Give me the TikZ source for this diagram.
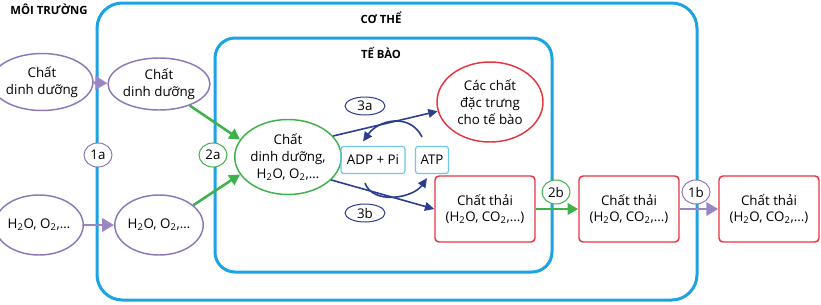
\documentclass[tikz,border=0pt]{standalone}
\usepackage{fontspec}
\setmainfont{Open Sans}
\usepackage{tikz}
\usepackage{xcolor}
\usetikzlibrary{shapes.geometric,arrows.meta}
\definecolor{bodyblue}{RGB}{27,163,227}
\definecolor{lilac}{RGB}{140,120,184}
\definecolor{lilacarrow}{RGB}{155,134,196}
\definecolor{leafgreen}{RGB}{61,177,74}
\definecolor{wastered}{RGB}{232,52,63}
\definecolor{navy}{RGB}{44,62,143}
\definecolor{paleblue}{RGB}{110,198,238}

\begin{document}
\begin{tikzpicture}[x=0.75pt,y=-0.75pt,
  every node/.style={font=\fontsize{10}{12.5}\selectfont,align=center},
  headtext/.style={font=\fontsize{8.5}{10}\selectfont\bfseries},
  oval/.style={ellipse,draw,line width=1.1pt,inner sep=0pt},
  wastebox/.style={draw=wastered,line width=1.1pt,rounded corners=3pt,minimum width=75pt,minimum height=49.5pt,inner sep=0pt},
  energybox/.style={draw=paleblue,line width=0.9pt,rounded corners=2pt,minimum height=20.25pt,inner sep=0pt},
  tag/.style={ellipse,draw,fill=white,line width=0.75pt,minimum width=21pt,minimum height=18pt,inner sep=0pt},
  lilacflow/.style={lilacarrow,line width=2.2pt,-{Triangle[length=9pt,width=10pt]}},
  greenflow/.style={leafgreen,line width=1.9pt,-{Triangle[length=8pt,width=8.5pt]}},
  navyflow/.style={navy,line width=1.2pt,-{Triangle[length=7pt,width=6.5pt]}}]
\useasboundingbox (0,0) rectangle (821,304);
\draw[bodyblue,line width=2.25pt,rounded corners=19pt] (97,3) rectangle (697,300);
\draw[bodyblue,line width=2.25pt,rounded corners=15pt] (215,38) rectangle (552,272);
\node[headtext] (moitruong) at (49,9.5) {MÔI TRƯỜNG};
\node[headtext] (cothe) at (381,18) {CƠ THỂ};
\node[headtext] (tebao) at (381,53) {TẾ BÀO};
\node[oval,draw=lilac,minimum width=60.75pt,minimum height=42.75pt] (envnutri) at (42,82) {Chất\\dinh dưỡng};
\node[oval,draw=lilac,minimum width=58.5pt,minimum height=39pt] (bodynutri) at (159,84) {Chất\\dinh dưỡng};
\node[oval,draw=lilac,minimum width=58.5pt,minimum height=45pt] (envwater) at (39,225) {H\textsubscript{2}O, O\textsubscript{2},…};
\node[oval,draw=lilac,minimum width=58.5pt,minimum height=45pt] (bodywater) at (159,225) {H\textsubscript{2}O, O\textsubscript{2},…};
\node[oval,draw=leafgreen,minimum width=72pt,minimum height=56.25pt] (cellmix) at (288,157) {Chất\\dinh dưỡng,\\H\textsubscript{2}O, O\textsubscript{2},…};
\node[oval,draw=wastered,minimum width=79.5pt,minimum height=60pt] (special) at (490,102) {Các chất\\đặc trưng\\cho tế bào};
\node[energybox,minimum width=48pt] (adp) at (373,160) {ADP + Pi};
\node[energybox,minimum width=24.75pt] (atp) at (432,160) {ATP};
\node[wastebox] (cellwaste) at (485,209) {Chất thải\\(H\textsubscript{2}O, CO\textsubscript{2},...)};
\node[wastebox] (bodywaste) at (629,209) {Chất thải\\(H\textsubscript{2}O, CO\textsubscript{2},...)};
\node[wastebox] (envwaste) at (769,209) {Chất thải\\(H\textsubscript{2}O, CO\textsubscript{2},...)};
\draw[lilacflow] (envnutri) -- (bodynutri);
\draw[lilacflow] (envwater) -- (bodywater);
\draw[greenflow] (bodynutri.-35) -- (cellmix.160);
\draw[greenflow] (bodywater.30) -- (cellmix.-160);
\draw[navyflow] (cellmix.25) -- (special.190);
\draw[navyflow] (cellmix.-28) -- (cellwaste.west);
\draw[navyflow] ([shift={(-10,-9)}]atp.north) .. controls +(-12,-24) and +(16,-22) .. ([shift={(-10,-4.5)}]adp.north);
\draw[navyflow] ([shift={(-8,9)}]adp.south) .. controls +(8,22) and +(-14,20) .. ([shift={(-5,4)}]atp.south);
\draw[greenflow] (cellwaste.east) -- (bodywaste.west);
\draw[lilacflow] (bodywaste.east) -- (envwaste.west);
\node[tag,draw=lilac] (tag1a) at (98,155) {1a};
\node[tag,draw=leafgreen] (tag2a) at (213,155) {2a};
\node[tag,draw=leafgreen] (tag2b) at (556,192) {2b};
\node[tag,draw=lilac] (tag1b) at (696,192) {1b};
\node[tag,draw=navy,minimum width=30pt,minimum height=13.5pt] (tag3a) at (365,106) {3a};
\node[tag,draw=navy,minimum width=30pt,minimum height=13.5pt] (tag3b) at (365,213) {3b};
\end{tikzpicture}
\end{document}
